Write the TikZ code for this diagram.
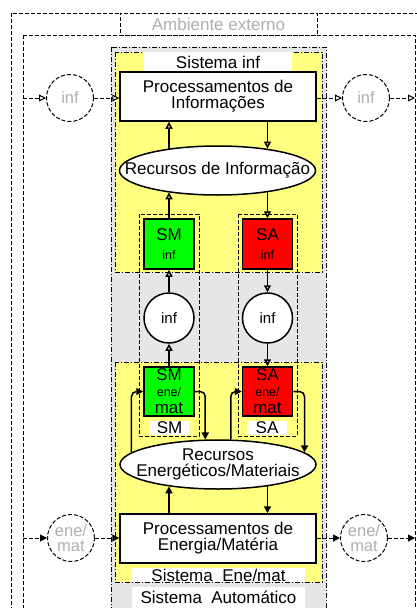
\documentclass[tikz,border=0pt]{standalone}
\usepackage{fontspec}
\setmainfont{Liberation Sans}
\usetikzlibrary{arrows.meta, positioning, shapes.geometric}
\definecolor{sysyellow}{RGB}{255,255,128}
\definecolor{sysgray}{RGB}{230,230,230}
\definecolor{smgreen}{RGB}{0,255,0}
\definecolor{sared}{RGB}{255,0,0}
\definecolor{extgray}{RGB}{175,175,175}

\begin{document}
\begin{tikzpicture}[x=1pt, y=-1pt,
    procbox/.style={draw, line width=1.5pt, fill=white, minimum width=196pt, minimum height=49pt, inner sep=0pt, align=center, font=\fontsize{17}{16}\selectfont},
    resource/.style={ellipse, draw, line width=1.5pt, fill=white, minimum width=196pt, minimum height=49pt, inner xsep=-24pt, inner ysep=0pt, align=center, font=\fontsize{17}{16}\selectfont},
    ctrlbox/.style={draw, line width=1.5pt, minimum width=50pt, minimum height=50pt, inner sep=0pt, align=center, font=\fontsize{17}{17}\selectfont},
    flowcirc/.style={circle, draw, line width=1.5pt, fill=white, minimum size=50pt, inner sep=0pt, font=\fontsize{15}{15}\selectfont},
    extcirc/.style={circle, draw, line width=1pt, dash pattern=on 4pt off 2pt, minimum size=47pt, inner sep=0pt, align=center, text=extgray, font=\fontsize{16.5}{15}\selectfont},
    tag/.style={fill=white, inner sep=0pt, font=\fontsize{17}{17}\selectfont},
    border/.style={line width=1pt, dash pattern=on 4pt off 2pt},
    sysline/.style={line width=0.8pt, dash pattern=on 5pt off 2pt on 1pt off 2pt},
    infarr/.style={-{Triangle[open, length=7pt, width=7pt]}, line width=1.5pt},
    matarr/.style={-{Triangle[length=7pt, width=7pt]}, line width=1.5pt},
    extinf/.style={border, -{Triangle[open, length=7pt, width=7pt]}},
    extmat/.style={border, -{Triangle[length=7pt, width=7pt]}}
]
\useasboundingbox (0,0) rectangle (416,608);

\draw[border] (11,13) rectangle (430,620);
\draw[border] (23,35) rectangle (415,620);
\node[tag, draw, border, minimum width=197pt, minimum height=22pt, text=extgray] (amb) at (218.5,24) {Ambiente externo};

\draw[sysline, fill=sysgray] (111,47) rectangle (326,620);
\draw[sysline, fill=sysyellow] (115,52) rectangle (322,272);
\draw[sysline, fill=sysyellow] (115,362) rectangle (322,582);

\node[tag, minimum width=148pt, minimum height=20pt] (sinf) at (218,62) {Sistema inf};
\node[tag, minimum width=173pt, minimum height=14pt] (sene) at (218.5,575) {Sistema\ \ Ene/mat};
\node[tag, minimum width=173pt, minimum height=21pt, anchor=north] (saut) at (218.5,587) {Sistema\ \ Automático};

\draw[border] (139,214) rectangle (199,436);
\draw[border] (238,214) rectangle (297,436);

\node[procbox] (pinf) at (218,96.5) {Processamentos de\\Informações};
\node[resource] (rinf) at (217.5,170.5) {Recursos de Informação};
\node[ctrlbox, fill=smgreen] (smi) at (169,244) {SM\\[2pt]\fontsize{12.5}{12}\selectfont inf};
\node[ctrlbox, fill=sared] (sai) at (267.5,244) {SA\\[2pt]\fontsize{12.5}{12}\selectfont inf};
\node[flowcirc] (infl) at (169,318) {inf};
\node[flowcirc] (infr) at (267.5,318) {inf};
\node[ctrlbox, fill=smgreen, minimum height=49pt] (sme) at (169,391.5) {SM\\[-1pt]\fontsize{12.5}{13}\selectfont ene/\\mat};
\node[ctrlbox, fill=sared, minimum height=49pt] (sae) at (267.5,391.5) {SA\\[-1pt]\fontsize{12.5}{13}\selectfont ene/\\mat};
\node[tag, minimum width=39pt, minimum height=14pt] (smtag) at (169.5,428) {SM};
\node[tag, minimum width=40pt, minimum height=14pt] (satag) at (267,428) {SA};
\node[resource] (rene) at (218,464.5) {Recursos\\Energéticos/Materiais};
\node[procbox] (pene) at (218,538.5) {Processamentos de\\Energia/Matéria};

\node[extcirc] (infin) at (70,98) {inf};
\node[extcirc] (infout) at (366,98) {inf};
\node[extcirc] (enein) at (71,538) {ene/\\mat};
\node[extcirc] (eneout) at (364,538) {ene/\\mat};

\coordinate (lin) at (23,98);
\coordinate (lout) at (415,98);
\coordinate (ein) at (23,538);
\coordinate (eout) at (415,538);

\draw[extinf] (lin) -- (infin);
\draw[extinf] (infin) -- (pinf.west |- infin);
\draw[extinf] (pinf.east |- infout) -- (infout);
\draw[extinf] (infout) -- (lout);
\draw[extmat] (ein) -- (enein);
\draw[extmat] (enein) -- (pene.west |- enein);
\draw[extmat] (pene.east |- eneout) -- (eneout);
\draw[extmat] (eneout) -- (eout);

\draw[infarr] (smi.north |- rinf.156) -- (smi.north |- pinf.south);
\draw[infarr] (sai.north |- pinf.south) -- (sai.north |- rinf.24);
\draw[infarr] (smi.north) -- (smi.north |- rinf.204);
\draw[infarr] (sai.north |- rinf.336) -- (sai.north);
\draw[infarr] (infl) -- (smi);
\draw[infarr] (sme) -- (infl);
\draw[infarr] (sai) -- (infr);
\draw[infarr] (infr) -- (sae);

\draw[matarr, rounded corners=5pt] (rene.172) |- (sme.west);
\draw[matarr, rounded corners=5pt] (sme.east) -| (rene.117);
\draw[matarr, rounded corners=5pt] (rene.63) |- (sae.west);
\draw[matarr, rounded corners=5pt] (sae.east) -| (rene.8);
\draw[matarr] (smi.south |- pene.north) -- (smi.south |- rene.204);
\draw[matarr] (sai.south |- rene.336) -- (sai.south |- pene.north);
\end{tikzpicture}
\end{document}
